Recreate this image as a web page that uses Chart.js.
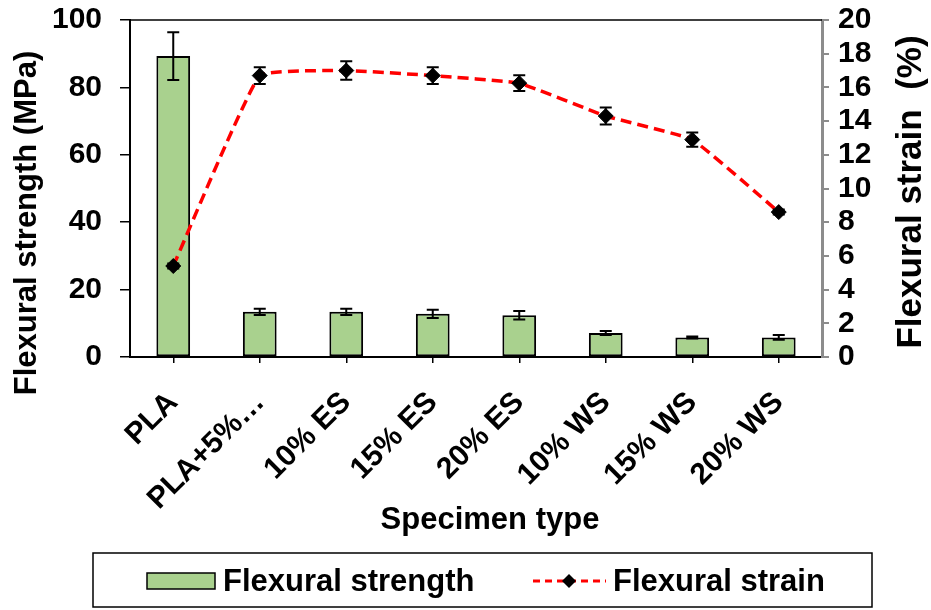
<!DOCTYPE html>
<html>
<head>
<meta charset="utf-8">
<script src="https://cdn.jsdelivr.net/npm/chart.js@4.4.1/dist/chart.umd.min.js"></script>
<style>
    html, body { margin: 0; padding: 0; background: #fff; }
</style>
</head>
<body>
<canvas id="flexural-chart" width="931" height="610"></canvas>
<script>
    // Data
    const specimens = ["PLA", "PLA+5%\u2026", "10% ES", "15% ES", "20% ES", "10% WS", "15% WS", "20% WS"];
    const flexStrength = [89.3, 13.4, 13.4, 12.8, 12.4, 7.1, 5.8, 5.8];        // MPa
    const flexStrengthErr = [7.1, 0.9, 0.9, 1.2, 1.25, 0.6, 0.3, 0.7];
    const flexStrain = [5.4, 16.7, 17.0, 16.7, 16.25, 14.3, 12.9, 8.6];        // %
    const flexStrainErr = [0.15, 0.5, 0.55, 0.5, 0.47, 0.5, 0.42, 0.15];

    const strengthAxis = { min: 0, max: 100, step: 20 };
    const strainAxis = { min: 0, max: 20, step: 2 };

    const FONT = '"Liberation Sans", Arial, sans-serif';
    const GREEN = "#a9d18e";
    const RED = "#ff0000";

    Chart.defaults.font.family = FONT;
    Chart.defaults.font.size = 30;
    Chart.defaults.font.weight = "bold";
    Chart.defaults.color = "#000";


    // Error bars for both series
    const errorBars = {
        id: "errorBars",
        afterDatasetsDraw: function (chart) {
            const ctx = chart.ctx;
            chart.data.datasets.forEach(function (ds, i) {
                const meta = chart.getDatasetMeta(i);
                const scale = chart.scales[meta.yAxisID];
                ctx.save();
                ctx.strokeStyle = "#000";
                ctx.lineWidth = 2;
                meta.data.forEach(function (el, j) {
                    const v = ds.data[j], e = ds.errors[j];
                    const yTop = scale.getPixelForValue(v + e);
                    const yBot = scale.getPixelForValue(v - e);
                    const x = el.x, cap = 6;
                    ctx.beginPath();
                    ctx.moveTo(x, yTop); ctx.lineTo(x, yBot);
                    ctx.moveTo(x - cap, yTop); ctx.lineTo(x + cap, yTop);
                    ctx.moveTo(x - cap, yBot); ctx.lineTo(x + cap, yBot);
                    ctx.stroke();
                });
                ctx.restore();
            });
        }
    };


    // Frame top, axis titles and boxed legend
    const decorations = {
        id: "decorations",
        afterDraw: function (chart) {
            const ctx = chart.ctx;
            const a = chart.chartArea;
            ctx.save();

            ctx.strokeStyle = "#000";
            ctx.lineWidth = 1.5;
            ctx.beginPath();
            ctx.moveTo(a.left, a.top);
            ctx.lineTo(a.right, a.top);
            ctx.stroke();

            ctx.fillStyle = "#000";
            ctx.textAlign = "center";
            ctx.textBaseline = "middle";

            ctx.font = "bold 31px " + FONT;
            ctx.fillText("Specimen type", 490, 520);

            ctx.save();
            ctx.translate(27, 223);
            ctx.rotate(-Math.PI / 2);
            ctx.fillText("Flexural strength (MPa)", 0, 0);
            ctx.restore();

            ctx.save();
            ctx.font = "bold 35px " + FONT;
            ctx.translate(911, 192);
            ctx.rotate(-Math.PI / 2);
            ctx.fillText("Flexural strain  (%)", 0, 0);
            ctx.restore();

            // legend
            const ds = chart.data.datasets;
            const ly = 581;
            ctx.lineWidth = 1.5;
            ctx.strokeRect(93, 553, 779, 54);

            ctx.fillStyle = ds[1].backgroundColor;
            ctx.fillRect(147, 573, 68, 16);
            ctx.strokeRect(147, 573, 68, 16);

            ctx.strokeStyle = ds[0].borderColor;
            ctx.lineWidth = 3;
            ctx.setLineDash([7, 5]);
            ctx.beginPath();
            ctx.moveTo(533, ly);
            ctx.lineTo(606, ly);
            ctx.stroke();
            ctx.setLineDash([]);
            ctx.fillStyle = "#000";
            ctx.beginPath();
            ctx.moveTo(569, ly - 7); ctx.lineTo(576, ly);
            ctx.lineTo(569, ly + 7); ctx.lineTo(562, ly);
            ctx.closePath();
            ctx.fill();

            ctx.textAlign = "left";
            ctx.fillStyle = "#000";
            ctx.font = "bold 31px " + FONT;
            ctx.fillText(ds[1].label, 223, ly + 1);
            ctx.fillText(ds[0].label, 613, ly + 1);

            ctx.restore();
        }
    };

    // fixed axis boxes so the plot area matches the figure
    function fitY(width) {
        return function (s) {
            s.width = width;
            s.paddingTop = 0;
            s.paddingBottom = 0;
        };
    }


    var ctx1 = document.getElementById("flexural-chart").getContext("2d");
    var flexChart = new Chart(ctx1, {
        type: "bar",
        data: {
            labels: specimens,
            datasets: [{
                    type: "line",
                    label: "Flexural strain",
                    data: flexStrain,
                    errors: flexStrainErr,
                    yAxisID: "y2",
                    order: 0,
                    borderColor: RED,
                    borderWidth: 3.5,
                    borderDash: [11, 6],
                    tension: 0.1,
                    fill: false,
                    pointStyle: "rectRot",
                    pointRadius: 7.5,
                    pointBackgroundColor: "#000",
                    pointBorderColor: "#000",
                    pointBorderWidth: 1
                },
                {
                    label: "Flexural strength",
                    data: flexStrength,
                    errors: flexStrengthErr,
                    yAxisID: "y",
                    order: 1,
                    backgroundColor: GREEN,
                    borderColor: "#000",
                    borderWidth: 2,
                    borderSkipped: false,
                    categoryPercentage: 1,
                    barPercentage: 0.39
                }
            ]
        },
        options: {
            responsive: false,
            animation: false,
            devicePixelRatio: 1,
            layout: { padding: { top: 20, left: 0, right: 0, bottom: 57 } },
            plugins: {
                legend: { display: false },
                tooltip: { enabled: false }
            },
            scales: {
                x: {
                    grid: { display: true, drawOnChartArea: false, offset: false, tickLength: 6, color: "#000", lineWidth: 1.5 },
                    border: { color: "#000", width: 2 },
                    ticks: { autoSkip: false, minRotation: 45, maxRotation: 45, padding: 22 },
                    afterFit: function (s) { s.height = 196; s.paddingLeft = 0; s.paddingRight = 0; }
                },
                y: {
                    position: "left",
                    min: strengthAxis.min,
                    max: strengthAxis.max,
                    ticks: { stepSize: strengthAxis.step, padding: 18, autoSkip: false },
                    grid: { drawOnChartArea: false, tickLength: 10, color: "#000", lineWidth: 1.5 },
                    border: { color: "#000", width: 2 },
                    afterFit: fitY(130)
                },
                y2: {
                    position: "right",
                    min: strainAxis.min,
                    max: strainAxis.max,
                    ticks: { stepSize: strainAxis.step, padding: 9, autoSkip: false },
                    grid: { drawOnChartArea: false, tickLength: 7, color: "#8c8c8c", lineWidth: 2 },
                    border: { color: "#8c8c8c", width: 3 },
                    afterFit: fitY(109)
                }
            }
        },
        plugins: [errorBars, decorations]
    });
</script>
</body>
</html>
